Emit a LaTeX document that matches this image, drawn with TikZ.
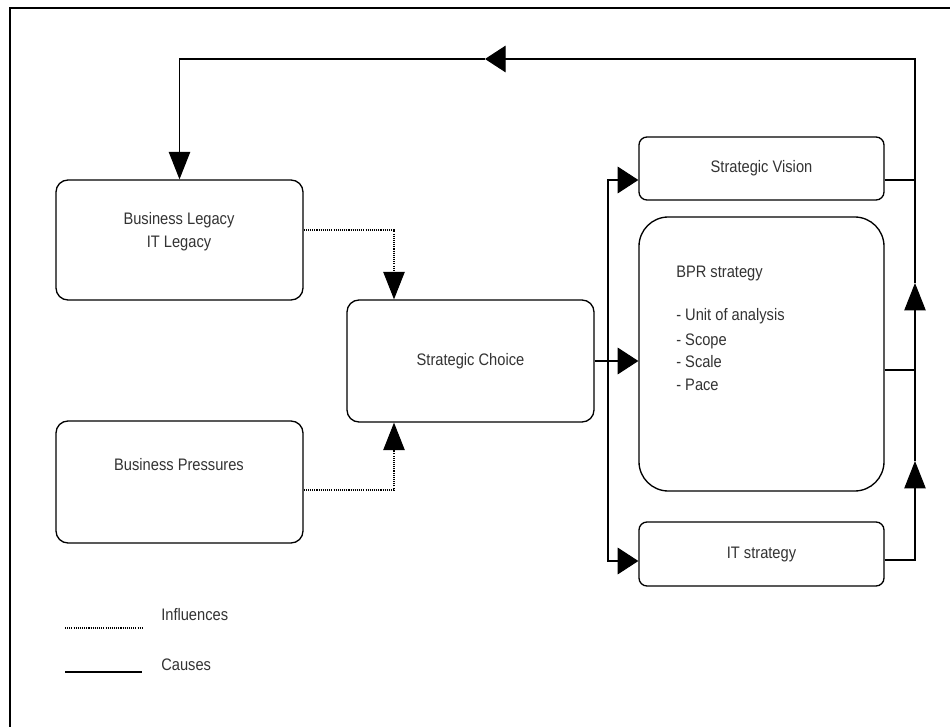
\documentclass[tikz,border=0pt]{standalone}
\usepackage{fontspec}
\setmainfont{Liberation Sans}[FakeStretch=0.88]
\usetikzlibrary{arrows.meta,calc}
\begin{document}
\begin{tikzpicture}[x=0.75pt,y=-0.75pt,
  box/.style={draw=black, line width=1pt, inner sep=0pt, fill=white, font=\fontsize{12.5}{17}\selectfont, text=black!80},
  txt/.style={font=\fontsize{12.5}{17}\selectfont, text=black!80, inner sep=0pt},
  cause/.style={draw=black, line width=0.8pt},
  infl/.style={draw=black, line width=0.8pt, dash pattern=on 0.8pt off 0.8pt},
  ha/.style={-{Triangle[length=15.5pt,width=20pt]}},
  va/.style={-{Triangle[length=20.5pt,width=16pt]}},
]
\useasboundingbox (0,0) rectangle (950,727);
\fill[white] (0,0) rectangle (950,727);
\draw[line width=1.2pt] (10,727) -- (10,8) -- (950,8);

% boxes
\node[box, rounded corners=9pt, minimum width=185.25pt, minimum height=90pt] (bl) at (179.5,240) {};
\node[txt, align=center] (bltext) at (179,231.5) {Business Legacy\\IT Legacy};
\node[box, rounded corners=9pt, minimum width=185.25pt, minimum height=91.5pt] (bp) at (179.5,482) {};
\node[txt] (bptext) at (179,465) {Business Pressures};
\node[box, rounded corners=9pt, minimum width=185.25pt, minimum height=91.5pt] (sc) at (470.5,361) {Strategic Choice};
\node[box, rounded corners=6pt, minimum width=183.75pt, minimum height=47.25pt] (sv) at (761.5,168.5) {Strategic Vision};
\node[box, rounded corners=22pt, minimum width=183.75pt, minimum height=205.5pt] (bpr) at (761.5,354) {};
\node[box, rounded corners=6pt, minimum width=183.75pt, minimum height=48pt] (it) at (761.5,554) {IT strategy};

% BPR text
\node[txt, anchor=base west] (b1) at (676,278) {BPR strategy};
\node[txt, anchor=base west] (b2) at (676,321) {- Unit of analysis};
\node[txt, anchor=base west] (b3) at (676,346) {- Scope};
\node[txt, anchor=base west] (b4) at (676,368) {- Scale};
\node[txt, anchor=base west] (b5) at (676,391) {- Pace};

% connectors
\coordinate (ra) at (915,461);
\coordinate (rb) at (915,283);
\coordinate (fb) at (485,59);
\coordinate (lv) at (608,361);

\draw[cause,va] ($(it.east)+(0,6)$) -| (ra);
\draw[cause,va] (ra) -- (rb);
\draw[cause,ha] (rb) |- (fb);
\draw[cause,va] (fb) -| (bl.north);
\draw[cause] ($(bpr.east)+(0,16)$) -- ++(31,0);
\draw[cause] ($(sv.east)+(0,11.5)$) -- ++(31,0);
\draw[cause,ha] (sc.east) -- (sc.east -| bpr.west);
\draw[cause,ha] (lv) |- ($(sv.west)+(0,11.5)$);
\draw[cause,ha] (lv) |- ($(it.west)+(0,7)$);
\draw[infl,va] ($(bl.east)+(0,-10)$) -| ($(sc.north)+(-76.5,0)$);
\draw[infl,va] ($(bp.east)+(0,8)$) -| ($(sc.south)+(-76.5,0)$);

% legend
\draw[infl] (65,628) coordinate (li1) -- (142,628) coordinate (li2);
\node[txt, anchor=west] (linf) at (161,615) {Influences};
\draw[cause] (65,672) coordinate (lc1) -- (142,672) coordinate (lc2);
\node[txt, anchor=west] (lcau) at (161,665) {Causes};
\end{tikzpicture}
\end{document}
